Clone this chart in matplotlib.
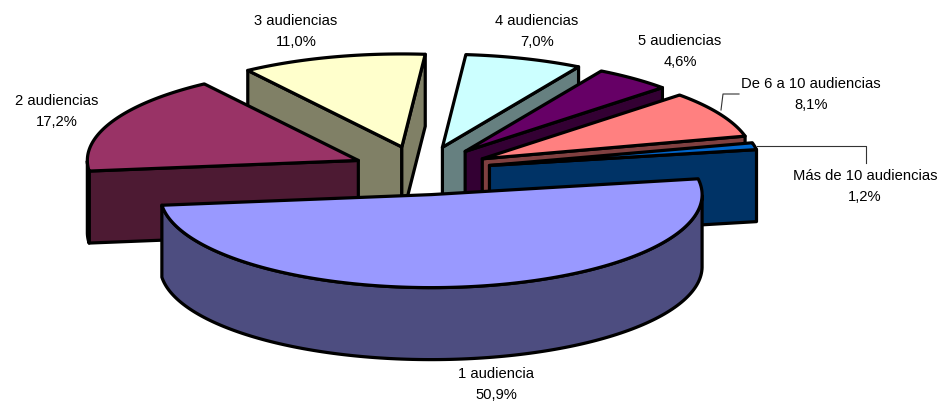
import numpy as np
import matplotlib
matplotlib.use("Agg")
import matplotlib.pyplot as plt
from matplotlib.patches import Polygon

labels = ["1 audiencia", "2 audiencias", "3 audiencias", "4 audiencias",
          "5 audiencias", "De 6 a 10 audiencias", "Más de 10 audiencias"]
values = [50.9, 17.2, 11.0, 7.0, 4.6, 8.1, 1.2]
value_text = ["50,9%", "17,2%", "11,0%", "7,0%", "4,6%", "8,1%", "1,2%"]
top_colors = ["#9999FF", "#993366", "#FFFFCC", "#CCFFFF", "#660066", "#FF8080", "#0066CC"]
side_colors = ["#4D4D80", "#4D1A33", "#808066", "#668080", "#330033", "#804040", "#003366"]
label_pos = [(496, 384.5), (57, 111.5), (296, 31.5), (537, 31.5), (680, 51.5), (811, 94.5), (865, 186.5)]
draw_order = [2, 1, 3, 4, 5, 6, 0]
nudge_x = [1, 3, 0, 1, 1, 0, 0]

W, H = 943, 403
CX, CY = 420, 170.5
RX, RY = 271, 93
DEPTH = 72
EXPLODE = 71
START = 9.8

fig = plt.figure(figsize=(W / 100, H / 100), dpi=100)
ax = fig.add_axes([0, 0, 1, 1])
ax.set_xlim(0, W)
ax.set_ylim(H, 0)
ax.axis("off")

fractions = np.array(values) / sum(values)
ends = START - 360 * np.cumsum(fractions)
starts = np.concatenate([[START], ends[:-1]])


def pt(t, ox, oy, r=1.0):
    a = np.radians(t)
    return ox + r * RX * np.cos(a), oy - r * RY * np.sin(a)


def face(pts, color, z):
    ax.add_patch(Polygon(pts, closed=True, facecolor=color, edgecolor="black",
                         linewidth=2.3, joinstyle="round", zorder=z))


for z, i in enumerate(draw_order):
    t1, t2 = starts[i], ends[i]
    mid = np.radians((t1 + t2) / 2)
    ox = CX + EXPLODE * np.cos(mid) + nudge_x[i]
    oy = CY - EXPLODE * RY / RX * np.sin(mid)
    arc = np.linspace(t1, t2, 160)
    ax_, ay_ = pt(arc, ox, oy)

    # radial cut faces
    if np.cos(np.radians(t1)) < 0:
        x, y = pt(t1, ox, oy)
        face([(ox, oy), (x, y), (x, y + DEPTH), (ox, oy + DEPTH)], side_colors[i], z * 3)
    if np.cos(np.radians(t2)) > 0:
        x, y = pt(t2, ox, oy)
        face([(ox, oy), (x, y), (x, y + DEPTH), (ox, oy + DEPTH)], side_colors[i], z * 3)

    # outer rim (front half only)
    vis = np.sin(np.radians(arc)) <= 0
    if vis.any():
        rx_, ry_ = ax_[vis], ay_[vis]
        pts = list(zip(rx_, ry_)) + list(zip(rx_[::-1], ry_[::-1] + DEPTH))
        face(pts, side_colors[i], z * 3 + 1)

    # top face
    face([(ox, oy)] + list(zip(ax_, ay_)), top_colors[i], z * 3 + 2)

for name, val, (x, y) in zip(labels, value_text, label_pos):
    ax.text(x, y, f"{name}\n{val}", ha="center", va="center", fontsize=10.6,
            family="Liberation Sans", color="black", linespacing=1.63, zorder=50)

# leader lines
ax.plot([721, 723, 739], [110, 94, 94], color="#333333", lw=0.8, zorder=60)
ax.plot([757, 866, 866], [146, 146, 163], color="#333333", lw=0.8, zorder=60)

fig.savefig("out.png", dpi=100)
